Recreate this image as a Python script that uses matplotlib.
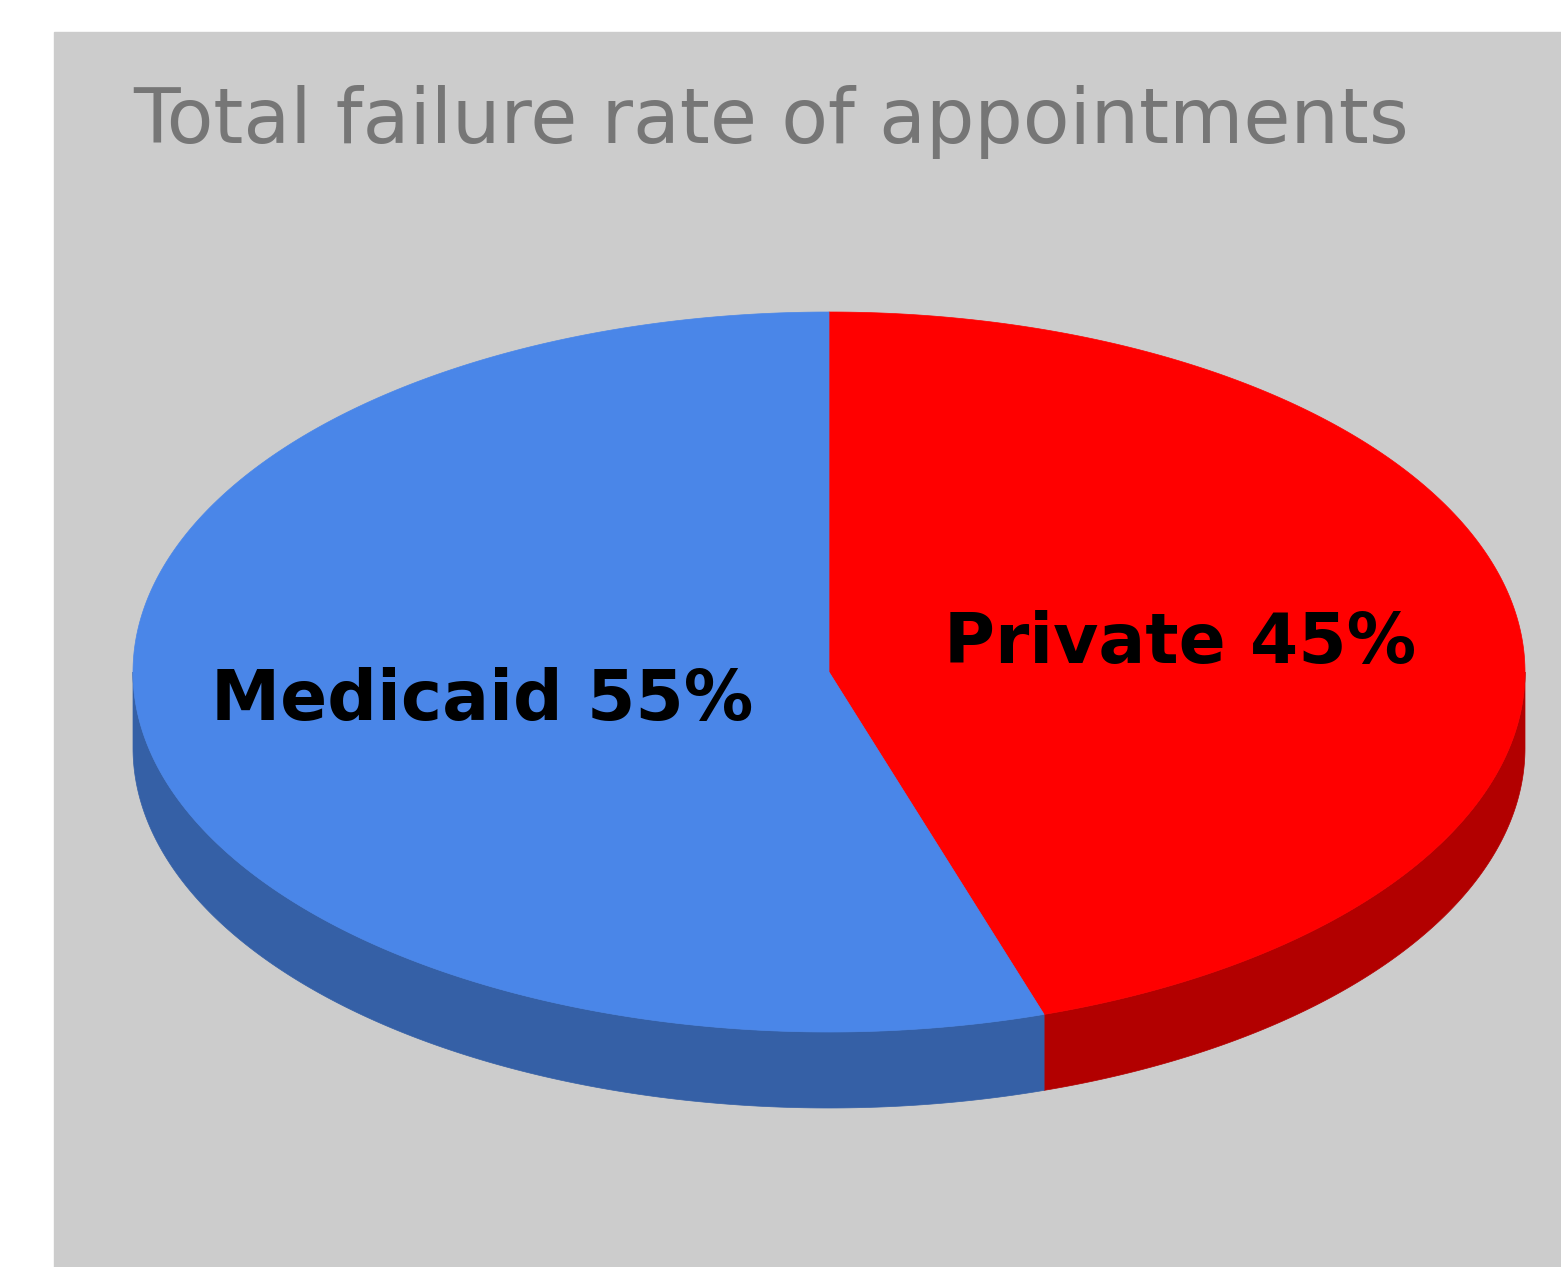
import numpy as np
import matplotlib
matplotlib.use('Agg')
import matplotlib.pyplot as plt
from matplotlib.patches import Polygon, Rectangle

# data
labels = ['Private', 'Medicaid']
values = [45, 55]
top_colors = ['#FF0000', '#4A86E8']
side_colors = ['#B20000', '#3560A6']
title = 'Total failure rate of appointments'

W, H = 1561, 1267
fig = plt.figure(figsize=(W / 100, H / 100), dpi=100)
ax = fig.add_axes([0, 0, 1, 1])
ax.set_xlim(0, W)
ax.set_ylim(H, 0)
ax.axis('off')

# gray chart area
ax.add_patch(Rectangle((54, 32), W - 54, H - 32, color='#CCCCCC', zorder=0))

# ellipse geometry (pixels)
cx, cy = 829, 672
a, b = 696, 360
depth = 76


def pt(theta):
    # theta in degrees, clockwise from 12 o'clock
    t = np.radians(theta)
    return cx + a * np.sin(t), cy - b * np.cos(t)


fracs = np.array(values) / sum(values)
starts = np.concatenate([[0], np.cumsum(fracs)[:-1]]) * 360
ends = np.cumsum(fracs) * 360

# side walls (only the front half 90..270 is visible)
for s, e, col in zip(starts, ends, side_colors):
    lo, hi = max(s, 90), min(e, 270)
    if hi <= lo:
        continue
    th = np.linspace(lo, hi, 200)
    xs, ys = pt(th)
    verts = list(zip(xs, ys)) + list(zip(xs[::-1], ys[::-1] + depth))
    ax.add_patch(Polygon(verts, closed=True, facecolor=col, edgecolor=col, lw=0.5, zorder=1))

# top faces
for s, e, col in zip(starts, ends, top_colors):
    th = np.linspace(s, e, 300)
    xs, ys = pt(th)
    verts = [(cx, cy)] + list(zip(xs, ys))
    ax.add_patch(Polygon(verts, closed=True, facecolor=col, edgecolor=col, lw=0.5, zorder=2))

# labels
ax.text(1180, 663, f'{labels[0]} {values[0]}%', fontsize=50, family='DejaVu Sans',
        weight='bold', color='black', ha='center', va='baseline', zorder=3)
ax.text(482, 720, f'{labels[1]} {values[1]}%', fontsize=50, family='DejaVu Sans',
        weight='bold', color='black', ha='center', va='baseline', zorder=3)

ax.text(133, 143, title, fontsize=55, family='DejaVu Sans', color='#767676',
        ha='left', va='baseline', zorder=3)

fig.savefig('out.png', dpi=100, facecolor='white')
